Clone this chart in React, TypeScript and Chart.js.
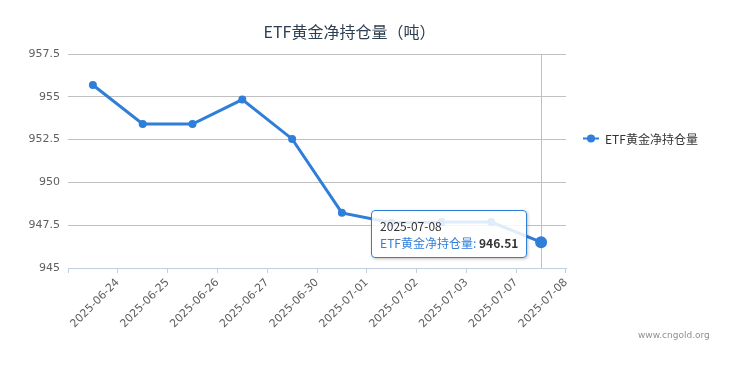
import React, { useEffect, useRef } from 'react';
import { Chart, registerables } from 'chart.js';

Chart.register(...registerables);

const TITLE = 'ETF黄金净持仓量（吨）';
const SERIES_NAME = 'ETF黄金净持仓量';
const CATEGORIES = [
  '2025-06-24', '2025-06-25', '2025-06-26', '2025-06-27', '2025-06-30',
  '2025-07-01', '2025-07-02', '2025-07-03', '2025-07-07', '2025-07-08',
];
const VALUES = [955.69, 953.41, 953.41, 954.84, 952.54, 948.22, 947.65, 947.68, 947.68, 946.51];
const Y_MIN = 945;
const Y_MAX = 957.5;
const Y_STEP = 2.5;
const CREDITS = 'www.cngold.org';
const ACTIVE_INDEX = VALUES.length - 1;

const BLUE = '#2f7ed8';
const CJK = '"Noto Sans CJK SC", "DejaVu Sans", sans-serif';
const LATIN = '"DejaVu Sans", "Noto Sans CJK SC", sans-serif';

export default function App() {
  const canvasRef = useRef<HTMLCanvasElement>(null);
  const tipRef = useRef<HTMLDivElement>(null);
  const tipTitleRef = useRef<HTMLDivElement>(null);
  const tipLabelRef = useRef<HTMLSpanElement>(null);
  const tipValueRef = useRef<HTMLSpanElement>(null);

  useEffect(() => {
    document.body.style.overflow = 'hidden';
    const crosshair = {
      id: 'crosshair',
      beforeDatasetsDraw(chart: any) {
        const act = chart.getActiveElements();
        if (!act.length) return;
        const x = Math.round(act[0].element.x) + 0.5;
        const { top, bottom } = chart.chartArea;
        const ctx = chart.ctx;
        ctx.save();
        ctx.strokeStyle = '#C0C0C0';
        ctx.lineWidth = 1;
        ctx.beginPath();
        ctx.moveTo(x, top);
        ctx.lineTo(x, bottom);
        ctx.stroke();
        ctx.restore();
      },
    };

    const external = ({ tooltip }: any) => {
      const el = tipRef.current;
      if (!el) return;
      if (tooltip.opacity === 0 || !tooltip.dataPoints || !tooltip.dataPoints.length) {
        el.style.opacity = '0';
        return;
      }
      const dp = tooltip.dataPoints[0];
      tipTitleRef.current!.textContent = dp.label;
      tipLabelRef.current!.textContent = dp.dataset.label + ': ';
      tipValueRef.current!.textContent = Number(dp.parsed.y).toFixed(2);
      el.style.opacity = '1';
      const w = el.offsetWidth;
      el.style.left = tooltip.caretX - w - 14 + 'px';
      el.style.top = tooltip.caretY - 32 + 'px';
    };

    const chart = new Chart(canvasRef.current as HTMLCanvasElement, {
      type: 'line',
      data: {
        labels: CATEGORIES,
        datasets: [
          {
            label: SERIES_NAME,
            data: VALUES,
            borderColor: BLUE,
            backgroundColor: BLUE,
            borderWidth: 3,
            pointRadius: 4,
            pointHoverRadius: 6,
            pointBackgroundColor: BLUE,
            pointBorderColor: BLUE,
            pointBorderWidth: 0,
            pointHoverBorderWidth: 0,
            pointHoverBackgroundColor: BLUE,
            tension: 0,
            fill: false,
          },
        ],
      },
      options: {
        responsive: false,
        animation: false,
        events: [],
        layout: { padding: 0 },
        plugins: {
          legend: { display: false },
          title: {
            display: true,
            text: TITLE,
            color: '#2d3e50',
            font: { family: CJK, size: 16, weight: 'normal' },
            padding: { top: 14.4, bottom: 12.4 },
          },
          tooltip: {
            enabled: false,
            mode: 'index',
            intersect: false,
            external,
          },
        },
        scales: {
          x: {
            type: 'category',
            offset: true,
            grid: {
              display: true,
              drawOnChartArea: false,
              drawTicks: true,
              tickLength: 5,
              color: '#C0D0E0',
              offset: true,
            },
            border: { display: true, color: '#C0D0E0', width: 1 },
            ticks: {
              autoSkip: false,
              minRotation: 45,
              maxRotation: 45,
              labelOffset: 24.9,
              padding: 3,
              color: '#606060',
              font: { family: LATIN, size: 11 },
            },
            afterFit: (s: any) => {
              s.height = 89;
            },
          },
          y: {
            min: Y_MIN,
            max: Y_MAX,
            ticks: {
              stepSize: Y_STEP,
              padding: 8,
              color: '#606060',
              font: { family: LATIN, size: 11 },
              callback: (v: any) => String(Number(v)),
            },
            grid: {
              color: (c: any) => (c.tick && c.tick.value === Y_MIN ? 'rgba(0,0,0,0)' : '#C0C0C0'),
              drawTicks: false,
            },
            border: { display: false },
            afterFit: (s: any) => {
              s.width = 60;
            },
          },
          legendSpace: {
            type: 'linear',
            position: 'right',
            display: true,
            grid: { display: false, drawTicks: false },
            border: { display: false },
            ticks: { display: false },
            afterFit: (s: any) => {
              s.width = 125;
            },
          },
        },
      },
      plugins: [crosshair],
    } as any);

    const meta = chart.getDatasetMeta(0);
    const pt: any = meta.data[ACTIVE_INDEX];
    chart.setActiveElements([{ datasetIndex: 0, index: ACTIVE_INDEX }]);
    chart.tooltip!.setActiveElements([{ datasetIndex: 0, index: ACTIVE_INDEX }], { x: pt.x, y: pt.y });
    chart.update();

    return () => {
      chart.destroy();
    };
  }, []);

  return (
    <div style={{ position: 'relative', width: 719, height: 349 }}>
      <canvas ref={canvasRef} width={683} height={349} style={{ position: 'absolute', left: 0, top: 0, display: 'block' }} />
      <div
        style={{
          position: 'absolute',
          left: 575,
          top: 130,
          transform: 'translateY(-50%)',
          display: 'flex',
          alignItems: 'center',
          fontFamily: CJK,
          fontSize: 12,
          color: '#333',
          whiteSpace: 'nowrap',
        }}
      >
        <span style={{ position: 'relative', display: 'inline-block', width: 16, height: 10, marginRight: 6 }}>
          <span style={{ position: 'absolute', left: 0, top: 4, width: 16, height: 2, background: BLUE }} />
          <span style={{ position: 'absolute', left: 4, top: 1, width: 8, height: 8, borderRadius: '50%', background: BLUE }} />
        </span>
        <span>{SERIES_NAME}</span>
      </div>
      <div
        style={{
          position: 'absolute',
          left: 630,
          top: 322,
          fontFamily: LATIN,
          fontSize: 9,
          color: '#909090',
          whiteSpace: 'nowrap',
        }}
      >
        {CREDITS}
      </div>
      <div style={{ position: 'absolute', left: 719, top: -8, width: 1, height: 365, background: '#e3e3e3' }} />
      <div
        ref={tipRef}
        style={{
          position: 'absolute',
          left: 0,
          top: 0,
          opacity: 0,
          background: 'rgba(255,255,255,0.85)',
          border: '1px solid ' + BLUE,
          borderRadius: 4,
          padding: '6px 8px',
          boxShadow: '1px 1px 3px rgba(0,0,0,0.25)',
          fontFamily: CJK,
          fontSize: 12,
          lineHeight: '17px',
          color: '#333',
          whiteSpace: 'nowrap',
          pointerEvents: 'none',
        }}
      >
        <div ref={tipTitleRef} />
        <div>
          <span ref={tipLabelRef} style={{ color: BLUE }} />
          <span ref={tipValueRef} style={{ fontWeight: 'bold', color: '#333' }} />
        </div>
      </div>
    </div>
  );
}
